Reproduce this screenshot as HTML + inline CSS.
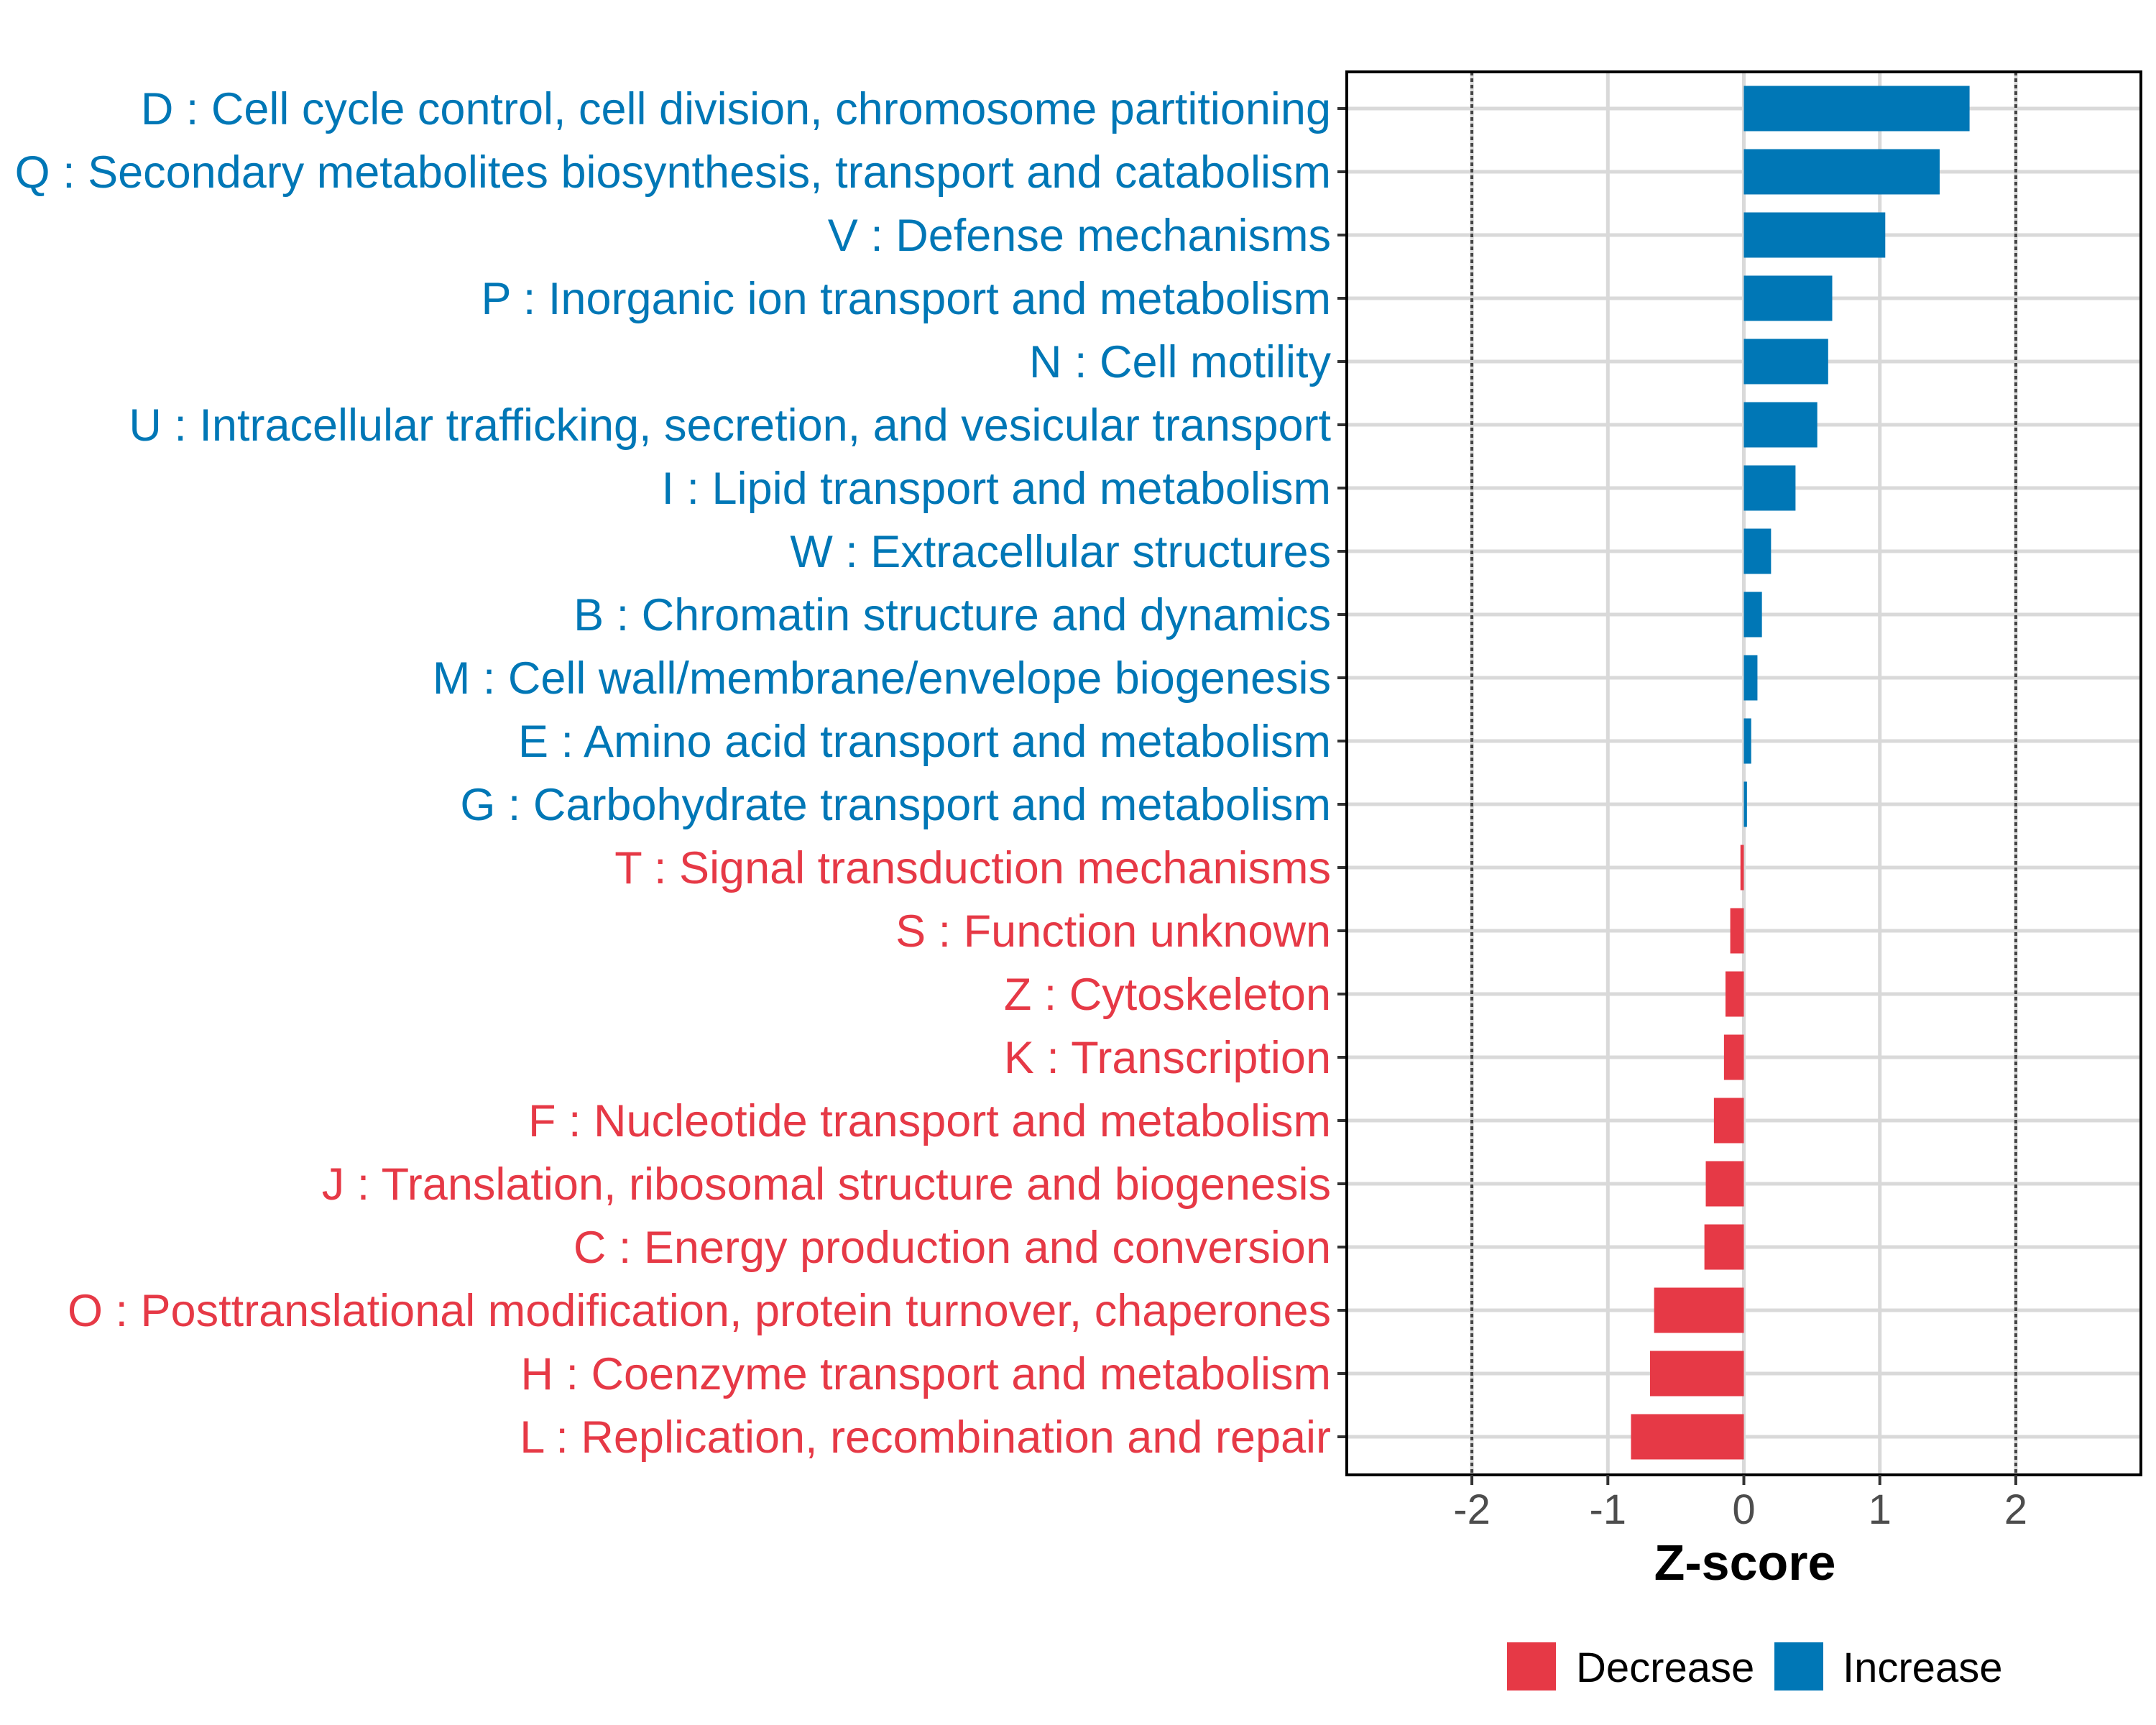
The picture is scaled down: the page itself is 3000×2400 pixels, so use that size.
<!DOCTYPE html>
<html><head><meta charset="utf-8"><style>
html,body{margin:0;padding:0;background:#fff;}
svg{display:block;font-family:"Liberation Sans",Arial,sans-serif;}
</style></head><body>
<svg id="chart" width="3000" height="2400" viewBox="0 0 3000 2400" xmlns="http://www.w3.org/2000/svg">
<rect x="0" y="0" width="3000" height="2400" fill="#fff"/>
<g id="grid"></g><g id="bars"></g><g id="labels"></g><g id="axes"></g>
<text x="2428" y="2198" font-size="70" font-weight="bold" text-anchor="middle" fill="#000">Z-score</text>
<g>
<rect x="2097" y="2285" width="68" height="67" fill="#e63946"/>
<text x="2193" y="2340" font-size="58" fill="#000">Decrease</text>
<rect x="2469" y="2285" width="68" height="67" fill="#0077b6"/>
<text x="2564" y="2340" font-size="58" fill="#000">Increase</text>
</g>
</svg>
<script>
const categories = [
"D : Cell cycle control, cell division, chromosome partitioning",
"Q : Secondary metabolites biosynthesis, transport and catabolism",
"V : Defense mechanisms",
"P : Inorganic ion transport and metabolism",
"N : Cell motility",
"U : Intracellular trafficking, secretion, and vesicular transport",
"I : Lipid transport and metabolism",
"W : Extracellular structures",
"B : Chromatin structure and dynamics",
"M : Cell wall/membrane/envelope biogenesis",
"E : Amino acid transport and metabolism",
"G : Carbohydrate transport and metabolism",
"T : Signal transduction mechanisms",
"S : Function unknown",
"Z : Cytoskeleton",
"K : Transcription",
"F : Nucleotide transport and metabolism",
"J : Translation, ribosomal structure and biogenesis",
"C : Energy production and conversion",
"O : Posttranslational modification, protein turnover, chaperones",
"H : Coenzyme transport and metabolism",
"L : Replication, recombination and repair"];
const zscores = [1.66,1.44,1.04,0.65,0.62,0.54,0.38,0.20,0.133,0.10,0.054,0.023,-0.025,-0.10,-0.135,-0.146,-0.22,-0.28,-0.29,-0.66,-0.69,-0.83];
const xTicks = [-2,-1,0,1,2];
const xTickLabels = ["-2","-1","0","1","2"];
const refLines = [-2,2];

const NS="http://www.w3.org/2000/svg";
const L=1874,R=2979,T=100,B=2052;
const xMin=-2.92,xMax=2.92;
function xs(v){return L+(v-xMin)/(xMax-xMin)*(R-L);}
function ys(i){return 151+i*88;}
function mk(tag,attrs,parent){const e=document.createElementNS(NS,tag);for(const k in attrs)e.setAttribute(k,attrs[k]);document.getElementById(parent).appendChild(e);return e;}

categories.forEach((c,i)=>{
  const g=mk('line',{x1:L,x2:R,y1:ys(i),y2:ys(i),stroke:'#d9d9d9','stroke-width':5},'grid');
  
  
});
xTicks.forEach(v=>{
  const g=mk('line',{x1:xs(v),x2:xs(v),y1:T,y2:B,stroke:'#d9d9d9','stroke-width':5},'grid');
  
  
});
refLines.forEach(v=>{
  const g=mk('line',{x1:xs(v),x2:xs(v),y1:T,y2:B,stroke:'#444','stroke-width':4,'stroke-dasharray':'5 4'},'grid');
  
  
});
const bh=63;
categories.forEach((c,i)=>{
  const v=zscores[i];
  const x0=xs(Math.min(0,v)),x1=xs(Math.max(0,v));
  const col=v>=0?'#0077b6':'#e63946';
  const r=mk('rect',{x:x0,y:ys(i)-bh/2,width:Math.max(x1-x0,1),height:bh,fill:col},'bars');
  
  
  const t=mk('text',{x:1852,y:ys(i)+22,'font-size':63,'text-anchor':'end',fill:col},'labels');
  t.textContent=c;
  
  
  const tk=mk('line',{x1:L-13,x2:L,y1:ys(i),y2:ys(i),stroke:'#333','stroke-width':4},'axes');
  
  
});
const pb=mk('rect',{x:L,y:T,width:R-L,height:B-T,fill:'none',stroke:'#000','stroke-width':4},'axes');


xTicks.forEach((v,i)=>{
  const tk=mk('line',{x1:xs(v),x2:xs(v),y1:B,y2:B+14,stroke:'#333','stroke-width':4},'axes');
  
  
  const t=mk('text',{x:xs(v),y:2120,'font-size':58,'text-anchor':'middle',fill:'#4d4d4d'},'axes');
  t.textContent=xTickLabels[i];
  
  
});
</script>
</body></html>
